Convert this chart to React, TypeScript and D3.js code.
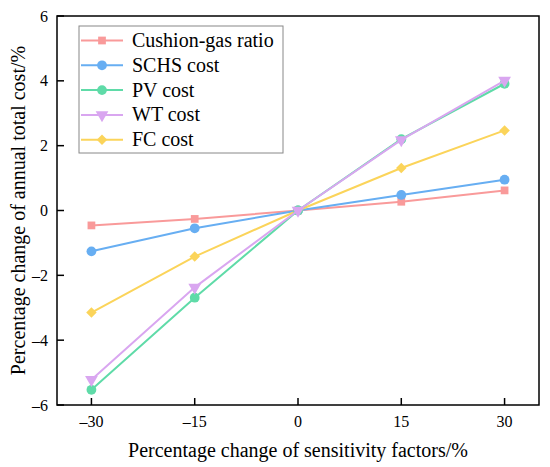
import { useEffect, useRef } from "react"
import * as d3 from "d3"

const changes = [-30, -15, 0, 15, 30]
const seriesNames = ["Cushion-gas ratio", "SCHS cost", "PV cost", "WT cost", "FC cost"]
const cushionGas = [-0.46, -0.26, 0, 0.27, 0.62]
const schsCost = [-1.26, -0.55, 0, 0.48, 0.95]
const pvCost = [-5.53, -2.69, 0, 2.2, 3.91]
const wtCost = [-5.22, -2.37, 0, 2.18, 4.01]
const fcCost = [-3.15, -1.42, 0, 1.31, 2.47]
const xTicks = [-30, -15, 0, 15, 30]
const yTicks = [-6, -4, -2, 0, 2, 4, 6]

const colors = ["#f99a9a", "#67aef2", "#5fdba8", "#d9a6f0", "#fbd45a"]
const symbols = [d3.symbolSquare, d3.symbolCircle, d3.symbolCircle, d3.symbolTriangle, d3.symbolSquare]

export default function App() {
  const svgRef = useRef<SVGSVGElement>(null)
  const width = 550
  const height = 467

  useEffect(() => {
    if (!svgRef.current) return
    const svg = d3.select(svgRef.current)
    svg.selectAll("*").remove()

    const m = { left: 57, right: 539, top: 16, bottom: 405 }
    const x = d3.scaleLinear().domain([-35, 35]).range([m.left, m.right])
    const y = d3.scaleLinear().domain([-6, 6]).range([m.bottom, m.top])
    const font = "'Liberation Serif', 'Times New Roman', serif"
    const fmt = (t: number) => (t < 0 ? `\u2013${-t}` : `${t}`)

    const all = [cushionGas, schsCost, pvCost, wtCost, fcCost]

    const line = d3.line<number>()
      .x((_, i) => x(changes[i]))
      .y((d) => y(d))

    const marker = (i: number) => {
      const sizes = [60, 75, 75, 70, 55]
      return d3.symbol().type(symbols[i]).size(sizes[i])()
    }
    // down-pointing triangle for WT cost, rotated square for FC cost
    const rot = (i: number) => (i === 3 ? "rotate(180)" : i === 4 ? "rotate(45)" : "")

    // draw order: cushion, schs, fc, pv, wt on top
    const order = [0, 1, 4, 2, 3]
    order.forEach((i) => {
      svg.append("path")
        .attr("d", line(all[i]) || "")
        .attr("fill", "none")
        .attr("stroke", colors[i])
        .attr("stroke-width", 2)
      all[i].forEach((v, j) => {
        svg.append("path")
          .attr("d", marker(i))
          .attr("transform", `translate(${x(changes[j])},${y(v)}) ${rot(i)}`)
          .attr("fill", colors[i])
      })
    })

    // frame
    svg.append("rect")
      .attr("x", m.left)
      .attr("y", m.top)
      .attr("width", m.right - m.left)
      .attr("height", m.bottom - m.top)
      .attr("fill", "none")
      .attr("stroke", "#000")
      .attr("stroke-width", 1.5)

    // ticks (inward)
    xTicks.forEach((t) => {
      svg.append("line")
        .attr("x1", x(t)).attr("x2", x(t))
        .attr("y1", m.bottom).attr("y2", m.bottom - 7)
        .attr("stroke", "#000").attr("stroke-width", 1.5)
      svg.append("text")
        .attr("x", x(t))
        .attr("y", m.bottom + 22)
        .attr("text-anchor", "middle")
        .attr("font-family", font)
        .attr("font-size", 16)
        .text(fmt(t))
    })
    yTicks.forEach((t) => {
      svg.append("line")
        .attr("x1", m.left).attr("x2", m.left + 7)
        .attr("y1", y(t)).attr("y2", y(t))
        .attr("stroke", "#000").attr("stroke-width", 1.5)
      svg.append("text")
        .attr("x", m.left - 9)
        .attr("y", y(t) + 5.5)
        .attr("text-anchor", "end")
        .attr("font-family", font)
        .attr("font-size", 16)
        .text(fmt(t))
    })

    // axis titles
    svg.append("text")
      .attr("x", (m.left + m.right) / 2)
      .attr("y", 457)
      .attr("text-anchor", "middle")
      .attr("font-family", font)
      .attr("font-size", 20)
      .text("Percentage change of sensitivity factors/%")
    svg.append("text")
      .attr("transform", `translate(25,${(m.top + m.bottom) / 2}) rotate(-90)`)
      .attr("text-anchor", "middle")
      .attr("font-family", font)
      .attr("font-size", 20)
      .text("Percentage change of annual total cost/%")

    // legend
    const lg = svg.append("g")
    lg.append("rect")
      .attr("x", 79).attr("y", 26)
      .attr("width", 204).attr("height", 127)
      .attr("fill", "#fff")
      .attr("stroke", "#888")
      .attr("stroke-width", 1)
    seriesNames.forEach((name, i) => {
      const cy = 40.5 + i * 24.8
      lg.append("line")
        .attr("x1", 81).attr("x2", 123)
        .attr("y1", cy).attr("y2", cy)
        .attr("stroke", colors[i]).attr("stroke-width", 2)
      lg.append("path")
        .attr("d", marker(i))
        .attr("transform", `translate(102,${cy}) ${rot(i)}`)
        .attr("fill", colors[i])
      lg.append("text")
        .attr("x", 132)
        .attr("y", cy + 6.5)
        .attr("font-family", font)
        .attr("font-size", 20)
        .text(name)
    })
  }, [])

  return (
    <svg
      ref={svgRef}
      width={width}
      height={height}
      style={{ position: "absolute", left: 0, top: 0, background: "#fff" }}
    />
  )
}
